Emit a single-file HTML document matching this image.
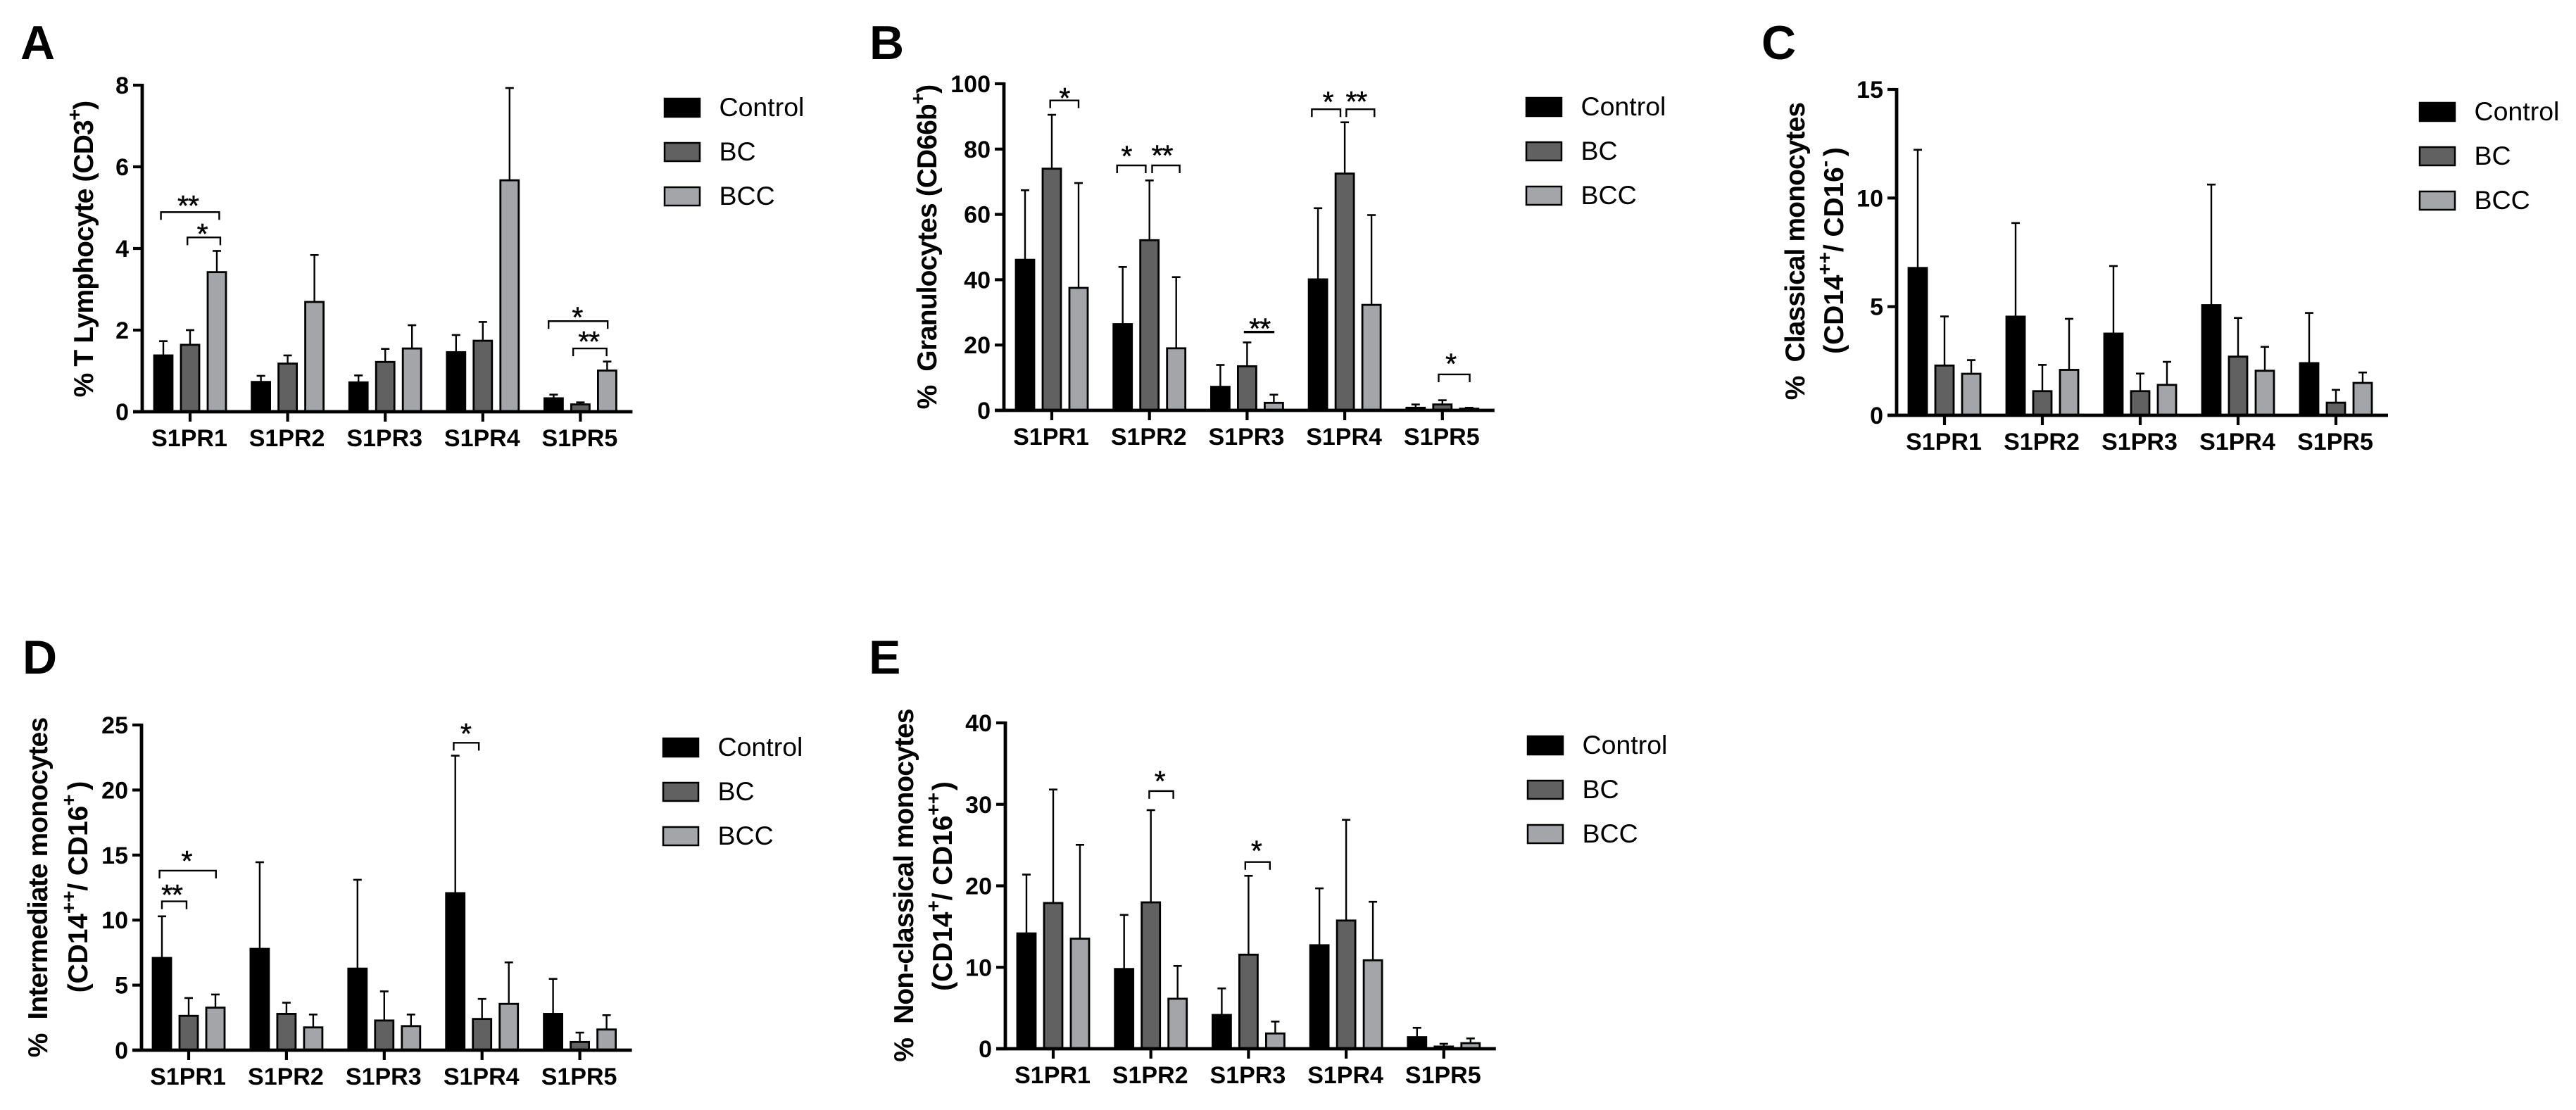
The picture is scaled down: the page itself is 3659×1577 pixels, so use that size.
<!DOCTYPE html>
<html lang="en">
<head>
<meta charset="utf-8">
<title>S1PR expression in leukocyte subsets</title>
<style>
html,body{margin:0;padding:0;background:#fff;width:3659px;height:1577px;overflow:hidden}
svg{display:block}
text{font-family:"Liberation Sans",Arial,sans-serif;fill:#000}
.letter{font-size:68px;font-weight:700}
.ytitle{font-size:39px;font-weight:700;letter-spacing:-0.9px}
.ytitle2{font-size:39px;font-weight:700;letter-spacing:-0.1px}
.sup{font-size:28px}
</style>
</head>
<body>
<svg id="figure" width="3659" height="1577" viewBox="0 0 3659 1577" xmlns="http://www.w3.org/2000/svg">
  <rect x="0" y="0" width="3659" height="1577" fill="#fff"/>

  <text class="letter" x="29" y="84">A</text>
  <text class="letter" x="1235" y="84">B</text>
  <text class="letter" x="2502" y="84">C</text>
  <text class="letter" x="32" y="957">D</text>
  <text class="letter" x="1234" y="957">E</text>

  <text class="ytitle" text-anchor="middle" transform="translate(132 354) rotate(-90)" xml:space="preserve">% T Lymphocyte (CD3<tspan class="sup" dy="-17">+</tspan><tspan dy="17">)</tspan></text>
  <text class="ytitle" text-anchor="middle" transform="translate(1330 351) rotate(-90)" xml:space="preserve">%  Granulocytes (CD66b<tspan class="sup" dy="-17">+</tspan><tspan dy="17">)</tspan></text>
  <text class="ytitle" text-anchor="middle" transform="translate(2563 357) rotate(-90)" xml:space="preserve">%  Classical monocytes</text>
  <text class="ytitle2" text-anchor="middle" transform="translate(2618 356) rotate(-90)" xml:space="preserve">(CD14<tspan class="sup" dy="-17">++</tspan><tspan dy="17">/ CD16</tspan><tspan class="sup" dy="-17">-</tspan><tspan dy="17" dx="6">)</tspan></text>
  <text class="ytitle" text-anchor="middle" transform="translate(67 1261) rotate(-90)" xml:space="preserve">%  Intermediate monocytes</text>
  <text class="ytitle2" text-anchor="middle" transform="translate(124 1260) rotate(-90)" xml:space="preserve">(CD14<tspan class="sup" dy="-17">++</tspan><tspan dy="17">/ CD16</tspan><tspan class="sup" dy="-17">+</tspan><tspan dy="17" dx="6">)</tspan></text>
  <text class="ytitle" text-anchor="middle" transform="translate(1297 1258) rotate(-90)" xml:space="preserve">%  Non-classical monocytes</text>
  <text class="ytitle2" text-anchor="middle" transform="translate(1352 1259) rotate(-90)" xml:space="preserve">(CD14<tspan class="sup" dy="-17">+</tspan><tspan dy="17">/ CD16</tspan><tspan class="sup" dy="-17">++</tspan><tspan dy="17" dx="3">)</tspan></text>
</svg>

<script>
// Shared categories and series
var categories = ['S1PR1', 'S1PR2', 'S1PR3', 'S1PR4', 'S1PR5'];
var seriesNames = ['Control', 'BC', 'BCC'];

// Panel A values
var aTicks = [0, 2, 4, 6, 8];
var aControl = [1.38, 0.73, 0.72, 1.46, 0.33];
var aControlErr = [1.73, 0.88, 0.89, 1.88, 0.42];
var aBC = [1.64, 1.18, 1.22, 1.74, 0.18];
var aBCErr = [2.0, 1.38, 1.54, 2.2, 0.23];
var aBCC = [3.42, 2.69, 1.55, 5.67, 1.01];
var aBCCErr = [3.94, 3.84, 2.12, 7.93, 1.23];

// Panel B values
var bTicks = [0, 20, 40, 60, 80, 100];
var bControl = [46.1, 26.4, 7.2, 40.1, 0.8];
var bControlErr = [67.4, 43.9, 13.9, 61.9, 1.8];
var bBC = [74, 52.1, 13.5, 72.5, 1.8];
var bBCErr = [90.5, 70.4, 20.8, 88.2, 3.1];
var bBCC = [37.5, 19, 2.3, 32.3, 0.5];
var bBCCErr = [69.6, 40.8, 4.8, 59.8, 0.8];

// Panel C values
var cTicks = [0, 5, 10, 15];
var cControl = [6.78, 4.54, 3.76, 5.07, 2.40];
var cControlErr = [12.22, 8.85, 6.87, 10.62, 4.71];
var cBC = [2.29, 1.11, 1.11, 2.70, 0.58];
var cBCErr = [4.55, 2.32, 1.92, 4.48, 1.17];
var cBCC = [1.91, 2.09, 1.40, 2.05, 1.49];
var cBCCErr = [2.54, 4.44, 2.46, 3.15, 1.97];

// Panel D values
var dTicks = [0, 5, 10, 15, 20, 25];
var dControl = [7.09, 7.79, 6.27, 12.07, 2.79];
var dControlErr = [10.29, 14.45, 13.1, 22.64, 5.48];
var dBC = [2.64, 2.79, 2.28, 2.40, 0.63];
var dBCErr = [4.01, 3.65, 4.52, 3.94, 1.35];
var dBCC = [3.27, 1.75, 1.85, 3.56, 1.59];
var dBCCErr = [4.28, 2.74, 2.74, 6.75, 2.69];

// Panel E values
var eTicks = [0, 10, 20, 30, 40];
var eControl = [14.16, 9.79, 4.15, 12.71, 1.42];
var eControlErr = [21.38, 16.43, 7.41, 19.69, 2.57];
var eBC = [17.89, 17.97, 11.55, 15.74, 0.27];
var eBCErr = [31.82, 29.29, 21.23, 28.1, 0.61];
var eBCC = [13.51, 6.14, 1.88, 10.86, 0.69];
var eBCCErr = [25.03, 10.17, 3.34, 18.04, 1.27];

// Significance brackets: group, bar-slot from, bar-slot to, value level, label, label slot, label value, has legs
var aBrackets = [
  [0, -1.09, 1.09, 4.89, '**', -0.08, 5.19, true],
  [0, -0.10, 1.13, 4.27, '*', 0.45, 4.50, true],
  [4, -1.19, 1.02, 2.22, '*', -0.12, 2.46, true],
  [4, -0.27, 0.98, 1.55, '**', 0.31, 1.86, true]
];
var bBrackets = [
  [0, -0.06, 1.0, 94.9, '*', 0.47, 97.4, true],
  [1, -1.21, -0.14, 75.0, '*', -0.86, 79.6, true],
  [1, 0.10, 1.13, 75.0, '**', 0.47, 79.9, true],
  [2, -0.12, 1.02, 24.0, '**', 0.47, 26.8, false],
  [3, -1.23, -0.16, 92.2, '*', -0.63, 96.2, true],
  [3, 0.06, 1.11, 92.2, '**', 0.43, 96.3, true],
  [4, -0.14, 1.02, 11.0, '*', 0.31, 16.1, true]
];
var cBrackets = [];
var dBrackets = [
  [0, -1.09, 1.02, 13.8, '*', -0.08, 14.98, true],
  [0, -1.0, -0.08, 11.44, '**', -0.63, 12.4, true],
  [3, -1.06, -0.12, 23.63, '*', -0.61, 24.78, true]
];
var eBrackets = [
  [1, -0.06, 0.84, 31.63, '*', 0.33, 33.55, true],
  [2, -0.12, 0.80, 22.92, '*', 0.29, 25.03, true]
];

// Layout per panel (geometry, kept apart from the data arrays)
var layouts = {
  a: {axisX: 202, yTop: 121, yZero: 585, firstX: 270, step: 138.6, legendX: 944, legendY: 140},
  b: {axisX: 1426, yTop: 119, yZero: 583, firstX: 1494, step: 138.7, legendX: 2168, legendY: 139},
  c: {axisX: 2694, yTop: 127, yZero: 590, firstX: 2762, step: 139, legendX: 3437, legendY: 146},
  d: {axisX: 201, yTop: 1030, yZero: 1492, firstX: 268, step: 138.9, legendX: 942, legendY: 1049},
  e: {axisX: 1428, yTop: 1027, yZero: 1490, firstX: 1496, step: 138.7, legendX: 2170, legendY: 1046}
};

var panels = [
  {id: 'a', ticks: aTicks, series: [aControl, aBC, aBCC], errors: [aControlErr, aBCErr, aBCCErr], brackets: aBrackets},
  {id: 'b', ticks: bTicks, series: [bControl, bBC, bBCC], errors: [bControlErr, bBCErr, bBCCErr], brackets: bBrackets},
  {id: 'c', ticks: cTicks, series: [cControl, cBC, cBCC], errors: [cControlErr, cBCErr, cBCCErr], brackets: cBrackets},
  {id: 'd', ticks: dTicks, series: [dControl, dBC, dBCC], errors: [dControlErr, dBCErr, dBCCErr], brackets: dBrackets},
  {id: 'e', ticks: eTicks, series: [eControl, eBC, eBCC], errors: [eControlErr, eBCErr, eBCCErr], brackets: eBrackets}
];

var fills = ['#000000', '#616161', '#a4a5a8'];
var barSlot = 38;
var barWidth = 26;
var svgNS = 'http://www.w3.org/2000/svg';
var root = document.getElementById('figure');

function make(tag, attrs, parent) {
  var node = document.createElementNS(svgNS, tag);
  for (var key in attrs) { node.setAttribute(key, attrs[key]); }
  parent.appendChild(node);
  return node;
}

function drawPanel(panel) {
  var L = layouts[panel.id];
  var yMax = panel.ticks[panel.ticks.length - 1];
  var yScale = function (v) { return L.yZero - (v / yMax) * (L.yZero - L.yTop); };
  var xScale = function (group, slot) { return L.firstX + group * L.step + slot * barSlot; };

  var g = make('g', {}, root);
  
  

  // Bars and error bars
  panel.series.forEach(function (values, s) {
    values.forEach(function (value, c) {
      var cx = xScale(c, s - 1);
      var top = yScale(value);
      var errTop = yScale(panel.errors[s][c]);

      var stem = make('line', {x1: cx, x2: cx, y1: top, y2: errTop, stroke: '#000', 'stroke-width': 2.4}, g);
      
      

      var cap = make('line', {x1: cx - 6, x2: cx + 6, y1: errTop, y2: errTop, stroke: '#000', 'stroke-width': 2.6}, g);
      
      

      var bar = make('rect', {x: cx - barWidth / 2, y: top, width: barWidth, height: Math.max(L.yZero - top, 0), fill: fills[s], stroke: '#000', 'stroke-width': 2.8}, g);
      
      
    });
  });

  // Axes
  var yAxis = make('line', {x1: L.axisX, x2: L.axisX, y1: L.yTop - 2, y2: L.yZero + 2, stroke: '#000', 'stroke-width': 4.8}, g);
  
  

  var xAxis = make('line', {x1: L.axisX - 13, x2: xScale(categories.length - 1, 0) + 74, y1: L.yZero, y2: L.yZero, stroke: '#000', 'stroke-width': 4.8}, g);
  
  

  panel.ticks.forEach(function (tick) {
    var y = yScale(tick);

    var mark = make('line', {x1: L.axisX - 13, x2: L.axisX, y1: y, y2: y, stroke: '#000', 'stroke-width': 4.2}, g);
    
    

    var label = make('text', {x: L.axisX - 19, y: y + 12, 'text-anchor': 'end', 'font-size': 34, 'font-weight': 700}, g);
    label.textContent = String(tick);
    
    
  });

  categories.forEach(function (name, c) {
    var x = xScale(c, 0);

    var mark = make('line', {x1: x, x2: x, y1: L.yZero, y2: L.yZero + 14, stroke: '#000', 'stroke-width': 4.2}, g);
    
    

    var label = make('text', {x: x - 1, y: L.yZero + 49, 'text-anchor': 'middle', 'font-size': 34, 'font-weight': 700}, g);
    label.textContent = name;
    
    
  });

  // Significance brackets
  panel.brackets.forEach(function (b) {
    var x1 = xScale(b[0], b[1]);
    var x2 = xScale(b[0], b[2]);
    var y = yScale(b[3]);
    var d = b[7]
      ? 'M' + x1 + ' ' + (y + 11) + 'V' + y + 'H' + x2 + 'V' + (y + 11)
      : 'M' + x1 + ' ' + y + 'H' + x2;

    var path = make('path', {d: d, fill: 'none', stroke: '#000', 'stroke-width': b[7] ? 2.4 : 3.4}, g);
    
    

    var star = make('text', {x: xScale(b[0], b[5]), y: yScale(b[6]) + 22, 'text-anchor': 'middle', 'font-size': 41, 'letter-spacing': -1, stroke: '#000', 'stroke-width': 0.5}, g);
    star.textContent = b[4];
    
    
  });

  // Legend
  seriesNames.forEach(function (name, s) {
    var top = L.legendY + s * 63;

    var swatch = make('rect', {x: L.legendX, y: top, width: 50, height: 26, fill: fills[s], stroke: '#000', 'stroke-width': 2.5}, g);
    
    

    var label = make('text', {x: L.legendX + 77.5, y: top + 25, 'font-size': 37.5}, g);
    label.textContent = name;
    
    
  });
}

panels.forEach(drawPanel);
</script>
</body>
</html>
